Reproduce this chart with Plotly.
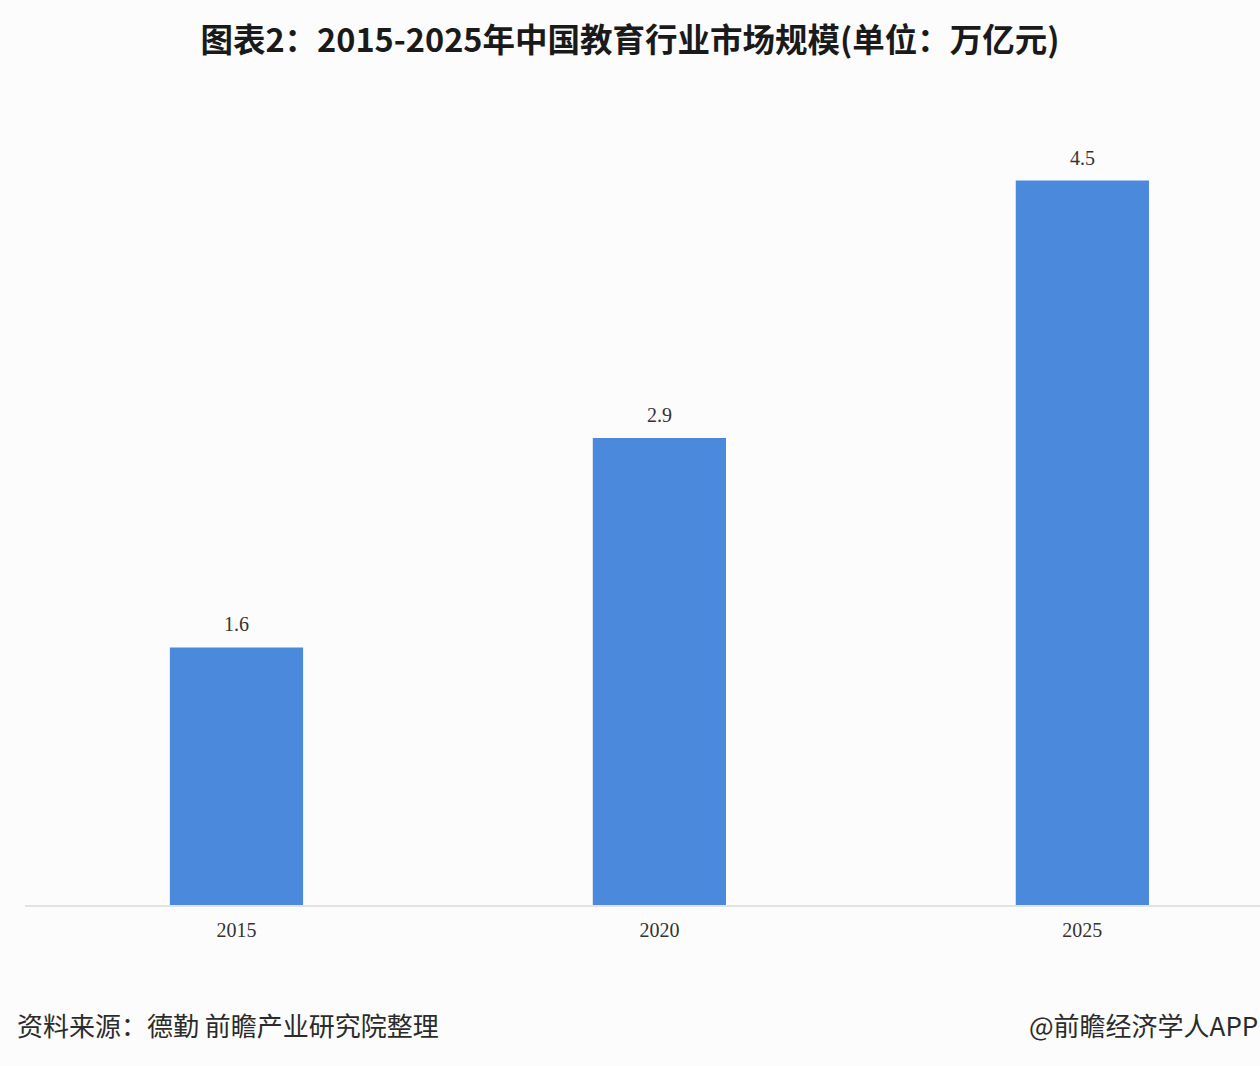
import plotly.graph_objects as go

# Market size of China's education industry (trillion yuan)
years = ["2015", "2020", "2025"]
market_size = [1.6, 2.9, 4.5]
value_labels = ["1.6", "2.9", "4.5"]

title_text = "图表2：2015-2025年中国教育行业市场规模(单位：万亿元)"
source_text = "资料来源：德勤 前瞻产业研究院整理"
credit_text = "@前瞻经济学人APP"

serif = "Liberation Serif, DejaVu Serif, serif"

fig = go.Figure()
fig.add_trace(go.Bar(
    x=years,
    y=market_size,
    marker_color="#4a89dc",
    marker_line_width=0,
    width=0.315,
    hoverinfo="x+y",
))

# value labels above the bars (x by category index, "2015" would be read as a number)
for i, (val, lab) in enumerate(zip(market_size, value_labels)):
    fig.add_annotation(
        x=i, y=val, text=lab, showarrow=False,
        yanchor="bottom", yshift=10,
        font=dict(family=serif, size=20, color="#333333"),
    )

fig.update_layout(
    width=1260,
    height=1066,
    margin=dict(l=25, r=0, t=100, b=161),
    paper_bgcolor="#fcfcfc",
    plot_bgcolor="#fcfcfc",
    showlegend=False,
    title=dict(
        text=title_text,
        x=0.5, xanchor="center",
        y=1 - 41 / 1066, yanchor="middle",
        font=dict(family="Noto Sans CJK SC", size=32.5, color="#1a1a1a", weight="bold"),
    ),
    xaxis=dict(
        type="category",
        range=[-0.5, 2.42],
        showgrid=False,
        showline=True,
        linecolor="#e2e2e2",
        linewidth=2,
        ticks="",
        tickfont=dict(family=serif, size=20, color="#333333"),
        ticklabelstandoff=6,
    ),
    yaxis=dict(
        range=[0, 5],
        visible=False,
        showgrid=False,
        zeroline=False,
    ),
)

fig.add_annotation(
    text=source_text, xref="paper", yref="paper",
    x=-10 / 1235, xanchor="left",
    y=-(1024 - 905) / 805, yanchor="middle",
    showarrow=False,
    font=dict(family="Noto Sans CJK SC", size=26, color="#2b2b2b"),
)
fig.add_annotation(
    text=credit_text, xref="paper", yref="paper",
    x=1.0, xanchor="right",
    y=-(1024 - 905) / 805, yanchor="middle",
    showarrow=False,
    font=dict(family="Noto Sans CJK SC", size=26, color="#2b2b2b"),
)

# drop the default page margin so the figure sits at the window's corner
fig.write_html(
    "out.html",
    config={"displayModeBar": False},
    post_script="document.body.style.margin='0';document.body.style.overflow='hidden';",
)
